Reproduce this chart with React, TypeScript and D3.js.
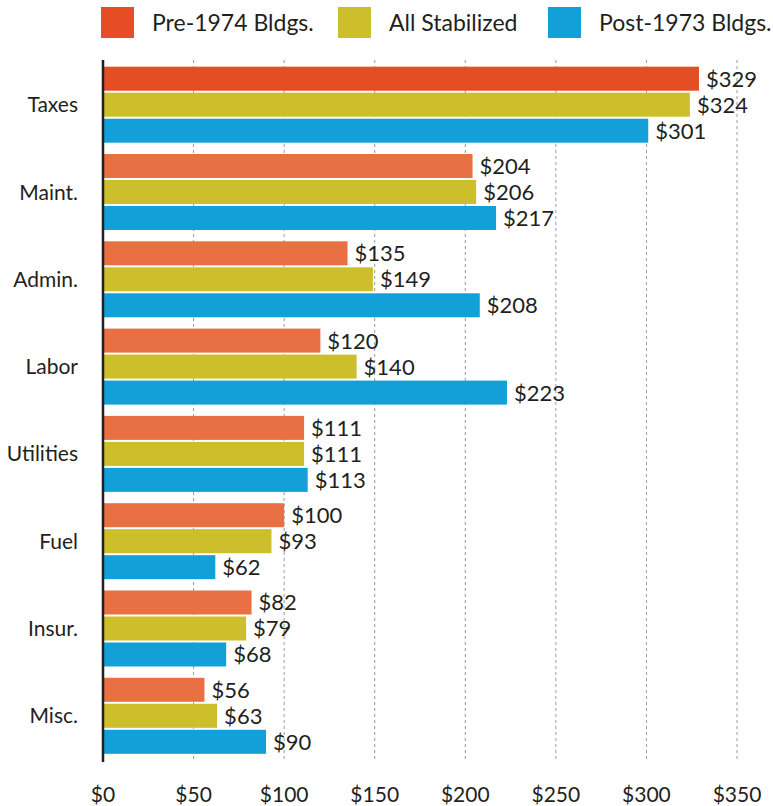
import React from "react";
import * as d3 from "d3";

const categories = ["Taxes", "Maint.", "Admin.", "Labor", "Utilities", "Fuel", "Insur.", "Misc."];
const seriesNames = ["Pre-1974 Bldgs.", "All Stabilized", "Post-1973 Bldgs."];
const pre1974 = [329, 204, 135, 120, 111, 100, 82, 56];
const allStabilized = [324, 206, 149, 140, 111, 93, 79, 63];
const post1973 = [301, 217, 208, 223, 113, 62, 68, 90];
const xTicks = [0, 50, 100, 150, 200, 250, 300, 350];

const W = 773;
const H = 806;
const colors = ["#e87043", "#cdbf2b", "#13a0d8"];
const legendColors = ["#e54e25", "#cdbf2b", "#13a0d8"];
const highlightColor = "#e54e25";
const font = "Lato, 'Open Sans', sans-serif";
const textColor = "#231f20";

export default function App() {
  const series = [pre1974, allStabilized, post1973];
  const x = d3.scaleLinear().domain([0, 350]).range([103, 737]);
  const y0 = d3
    .scaleBand<string>()
    .domain(categories)
    .range([66.7, 753.8])
    .paddingInner(0.1294)
    .paddingOuter(0);
  const y1 = d3
    .scaleBand<string>()
    .domain(seriesNames)
    .range([0, y0.bandwidth()])
    .paddingInner(0.0769);

  const legendX = [101, 338, 548];

  return (
    <svg
      width={W}
      height={H}
      style={{ position: "absolute", left: 0, top: 0, background: "#fff" }}
      fontFamily={font}
    >
      {seriesNames.map((s, i) => (
        <g key={s}>
          <rect x={legendX[i]} y={7} width={33} height={31} fill={legendColors[i]} />
          <text x={legendX[i] + 51} y={31} fontSize={23} fill={textColor}>
            {s}
          </text>
        </g>
      ))}

      {xTicks.slice(1).map((t) => (
        <line
          key={t}
          x1={x(t)}
          x2={x(t)}
          y1={60}
          y2={762}
          stroke="#9a9a9a"
          strokeWidth={1}
          strokeDasharray="3,3"
        />
      ))}

      {categories.map((c, ci) => (
        <g key={c} transform={`translate(0,${y0(c)})`}>
          {series.map((vals, si) => {
            const v = vals[ci];
            const yy = y1(seriesNames[si])!;
            const fill = si === 0 && ci === 0 ? highlightColor : colors[si];
            return (
              <g key={si}>
                <rect x={x(0)} y={yy} width={x(v) - x(0)} height={y1.bandwidth()} fill={fill} />
                <text
                  x={x(v) + 7}
                  y={yy + y1.bandwidth() / 2}
                  dy="0.36em"
                  fontSize={22}
                  fill={textColor}
                >
                  ${v}
                </text>
              </g>
            );
          })}
          <text
            x={78}
            y={y0.bandwidth() / 2}
            dy="0.36em"
            textAnchor="end"
            fontSize={21}
            fill={textColor}
          >
            {c}
          </text>
        </g>
      ))}

      <line x1={x(0)} x2={x(0)} y1={60} y2={762} stroke="#231f20" strokeWidth={2.5} />

      {xTicks.map((t) => (
        <text
          key={t}
          x={x(t)}
          y={802}
          textAnchor="middle"
          fontSize={21}
          fill={textColor}
        >
          ${t}
        </text>
      ))}
    </svg>
  );
}
